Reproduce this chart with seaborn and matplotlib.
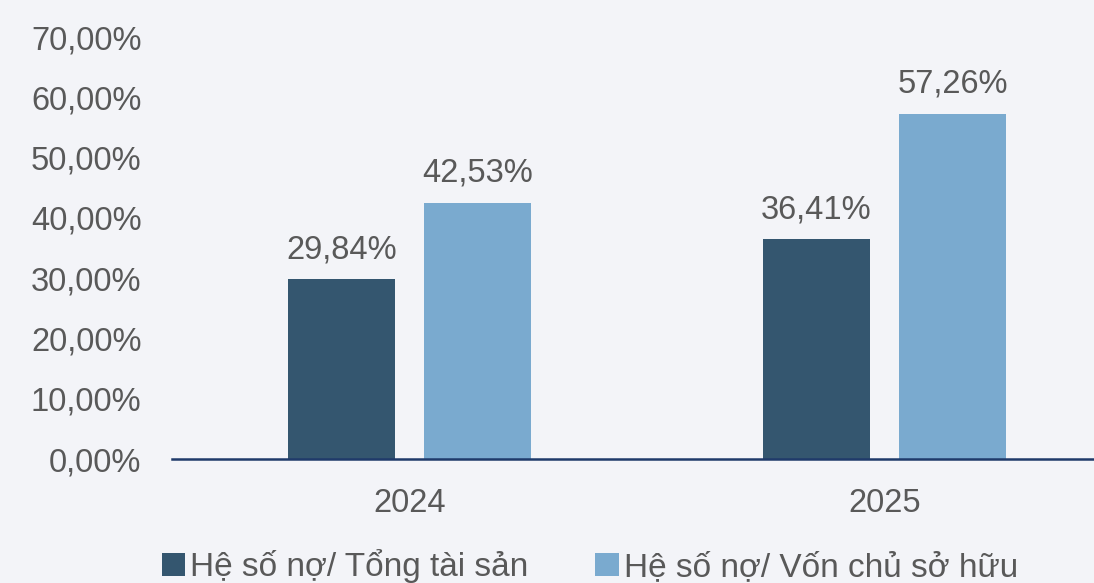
import matplotlib
matplotlib.use("Agg")
import matplotlib.pyplot as plt
from matplotlib.patches import Patch
import seaborn as sns
import pandas as pd

years = ["2024", "2025"]
series_names = ["Hệ số nợ/ Tổng tài sản", "Hệ số nợ/ Vốn chủ sở hữu"]
debt_to_assets = [29.84, 36.41]
debt_to_equity = [42.53, 57.26]
y_ticks = [0, 10, 20, 30, 40, 50, 60, 70]

colors = ["#34566f", "#7aaacf"]
bg = "#f3f4f8"
grey = "#595959"

df = pd.DataFrame({
    "year": years * 2,
    "series": [series_names[0]] * 2 + [series_names[1]] * 2,
    "value": debt_to_assets + debt_to_equity,
})

sns.set_theme(style="white")
plt.rcParams["font.family"] = ["Liberation Sans", "DejaVu Sans"]

fig = plt.figure(figsize=(10.94, 5.83), dpi=100, facecolor=bg)
ax = fig.add_axes([172 / 1094, 124 / 583, 950 / 1094, 422 / 583])
ax.set_facecolor(bg)

sns.barplot(data=df, x="year", y="value", hue="series", order=years,
            hue_order=series_names, palette=colors, width=0.573, gap=0.22,
            ax=ax, legend=False, saturation=1, edgecolor="none")

ax.set_xlim(-0.5, 1.5)
ax.set_ylim(0, 70)
ax.set_yticks(y_ticks)
ax.set_yticklabels([f"{v:.2f}".replace(".", ",") + "%" for v in y_ticks])
ax.set_xlabel("")
ax.set_ylabel("")
ax.tick_params(axis="y", length=0, pad=22, labelsize=23.5, labelcolor=grey)
ax.tick_params(axis="x", length=0, pad=21, labelsize=23.5, labelcolor=grey)

for s in ["top", "right", "left"]:
    ax.spines[s].set_visible(False)
ax.spines["bottom"].set_color("#1f3a6a")
ax.spines["bottom"].set_linewidth(1.8)

for cont in ax.containers:
    ax.bar_label(cont, labels=[f"{v:.2f}".replace(".", ",") + "%" for v in cont.datavalues],
                 padding=10, fontsize=23.5, color=grey)

handles = [Patch(facecolor=c, edgecolor="none") for c in colors]
fig.legend(handles, series_names, loc="center", bbox_to_anchor=(590 / 1094, 1 - 566 / 583),
           ncol=2, frameon=False, handlelength=0.7, handleheight=0.7,
           handletextpad=0.15, columnspacing=2.0, borderpad=0, borderaxespad=0,
           prop={"size": 24}, labelcolor=grey)

fig.savefig("out.png", dpi=100, facecolor=bg)
